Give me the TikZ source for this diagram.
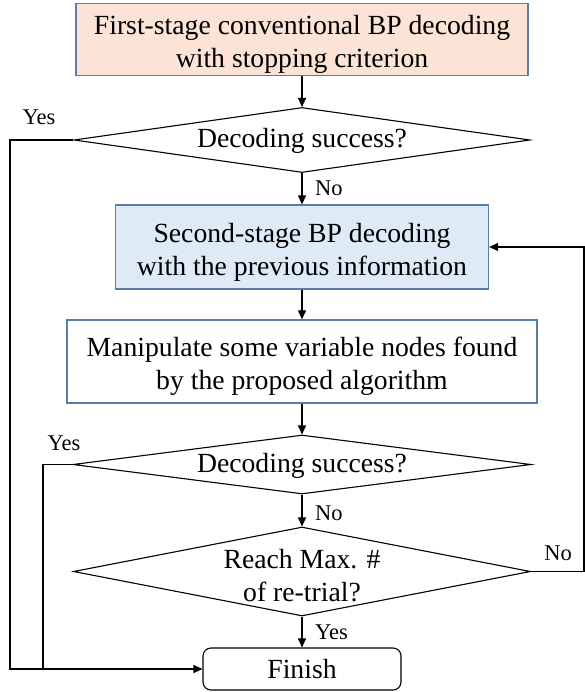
\documentclass[tikz,border=0pt]{standalone}
\usepackage{fontspec}
\setmainfont{Liberation Serif}
\usetikzlibrary{shapes.geometric,arrows.meta}
\definecolor{bordblue}{RGB}{88,125,170}
\definecolor{peach}{RGB}{251,228,214}
\definecolor{lightblue}{RGB}{222,234,246}
\tikzset{
  every node/.style={font=\fontsize{27.7}{33}\selectfont, align=center},
  procbox/.style={draw=bordblue, line width=1.3pt, inner sep=0pt},
  decbox/.style={draw=black, line width=1.1pt, diamond, inner sep=0pt},
  endbox/.style={draw=black, line width=1.1pt, rounded corners=8pt, inner sep=0pt, minimum width=198pt, minimum height=42pt},
  lbl/.style={font=\fontsize{22.5}{26}\selectfont, inner sep=0pt},
  conn/.style={line width=1.1pt, -{Triangle[length=9pt,width=8pt]}},
  plain/.style={line width=1.1pt}
}
\begin{document}
\begin{tikzpicture}[x=1pt,y=-1pt]
\useasboundingbox (0,0) rectangle (585,692);
% process boxes
\node[procbox, fill=peach, minimum width=452pt, minimum height=72pt] (b1) at (302,39.5) {};
\node (tb1) at (302,44) {First-stage conventional BP decoding\\with stopping criterion};
\node[procbox, fill=lightblue, minimum width=373pt, minimum height=84pt] (b2) at (302,247) {};
\node (tb2) at (302,252) {Second-stage BP decoding\\with the previous information};
\node[procbox, fill=white, minimum width=470pt, minimum height=83pt] (b3) at (302,361.5) {};
\node (tb3) at (302,366) {Manipulate some variable nodes found\\by the proposed algorithm};
% decisions
\node[decbox, minimum width=456pt, minimum height=65pt] (d1) at (302,140) {};
\node (t1) at (302,141) {Decoding success?};
\node[decbox, minimum width=458pt, minimum height=59pt] (d2) at (302,464.5) {};
\node (t2) at (302,465.5) {Decoding success?};
\node[decbox, minimum width=457pt, minimum height=89pt] (d3) at (302,571.5) {};
\node (t3) at (302,575.5) {Reach Max. \#\\of re-trial?};
% finish
\node[endbox] (fin) at (302,669) {Finish};
% helper coordinates
\coordinate (c1) at (10,140);
\coordinate (c1b) at (10,669);
\coordinate (c2) at (43,464.5);
\coordinate (c2b) at (43,669);
\coordinate (c3) at (584,571.5);
\coordinate (c3t) at (584,247);
% connectors
\draw[conn] (b1.south) -- (d1.north);
\draw[conn] (d1.south) -- (b2.north);
\draw[conn] (b2.south) -- (b3.north);
\draw[conn] (b3.south) -- (d2.north);
\draw[conn] (d2.south) -- (d3.north);
\draw[conn] (d3.south) -- (fin.north);
\draw[conn] (d1.west) -- (c1) -- (c1b) -- (fin.west);
\draw[plain] (d2.west) -- (c2) -- (c2b);
\draw[conn] (d3.east) -- (c3) -- (c3t) -- (b2.east);
% labels
\node[lbl] (y1) at (39,117) {Yes};
\node[lbl, anchor=west] (n1) at (315,188) {No};
\node[lbl] (y2) at (64,443) {Yes};
\node[lbl, anchor=west] (n2) at (315,513) {No};
\node[lbl] (n3) at (558,553) {No};
\node[lbl, anchor=west] (y3) at (315,632) {Yes};
\end{tikzpicture}
\end{document}
